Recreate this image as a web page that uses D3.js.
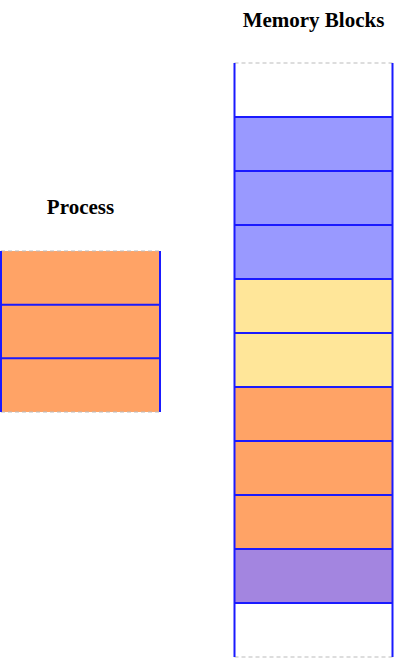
<!DOCTYPE html>
<html><head><meta charset="utf-8">
<script src="https://cdn.jsdelivr.net/npm/d3@7"></script>
<style>body{margin:0;background:#fff}svg{display:block}</style>
</head><body>
<svg id="c" width="412" height="658"></svg>
<script>
const processBlocks = ["P","P","P"];
const memoryBlocks = ["empty","B","B","B","Y","Y","P","P","P","V","empty"];
const colors = {empty:"#ffffff", B:"#9999ff", Y:"#ffe699", P:"#ffa366", V:"#a385e0"};
const titles = ["Process","Memory Blocks"];

const svg = d3.select("#c");
function column(data, x0, x1, y0, y1, title, titleY){
  const y = d3.scaleBand().domain(d3.range(data.length)).range([y0,y1]);
  const g = svg.append("g");
  g.selectAll("rect").data(data).join("rect")
    .attr("x",x0).attr("width",x1-x0)
    .attr("y",(d,i)=>y(i)).attr("height",y.bandwidth())
    .attr("fill",d=>colors[d]);
  // horizontal blue separators between slots (around filled)
  const seps = d3.range(1,data.length).filter(i=>data[i]!=="empty"||data[i-1]!=="empty");
  g.selectAll("line.s").data(seps).join("line")
    .attr("x1",x0).attr("x2",x1).attr("y1",i=>y(i)).attr("y2",i=>y(i))
    .attr("stroke","#1a1aff").attr("stroke-width",2);
  [y0,y1].forEach(v=>g.append("line").attr("x1",x0).attr("x2",x1).attr("y1",v).attr("y2",v)
    .attr("stroke","#bbbbbb").attr("stroke-width",1).attr("stroke-dasharray","4,3"));
  [x0,x1].forEach(v=>g.append("line").attr("x1",v).attr("x2",v).attr("y1",y0).attr("y2",y1)
    .attr("stroke","#1a1aff").attr("stroke-width",2));
  svg.append("text").attr("x",(x0+x1)/2).attr("y",titleY).attr("text-anchor","middle")
    .attr("font-family","Liberation Serif, Times New Roman, serif").attr("font-weight","bold")
    .attr("font-size",21).text(title);
}
column(processBlocks, 1, 160, 251, 412, titles[0], 214);
column(memoryBlocks, 234.5, 392.5, 63, 657, titles[1], 27);
</script>
</body></html>
